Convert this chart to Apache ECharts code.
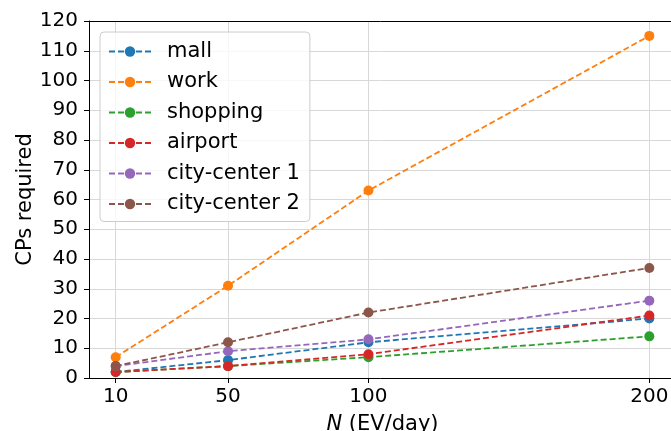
<!DOCTYPE html>
<html>
<head>
<meta charset="utf-8">
<script src="https://cdn.jsdelivr.net/npm/echarts@6/dist/echarts.min.js"></script>
<style>
  html, body { margin: 0; padding: 0; background: #fff; }
  #chart { width: 671px; height: 431px; }
</style>
</head>
<body>
<div id="chart"></div>
<script>
// Arrival rate N (EV/day)
const evPerDay = [10, 50, 100, 200];
// Charge points required per site
const mall = [2, 6, 12, 20];
const work = [7, 31, 63, 115];
const shopping = [2, 4, 7, 14];
const airport = [2, 4, 8, 21];
const cityCenter1 = [4, 9, 13, 26];
const cityCenter2 = [4, 12, 22, 37];

const xTicks = [10, 50, 100, 200];

const seriesDefs = [
  { name: 'mall', values: mall, color: '#1f77b4' },
  { name: 'work', values: work, color: '#ff7f0e' },
  { name: 'shopping', values: shopping, color: '#2ca02c' },
  { name: 'airport', values: airport, color: '#d62728' },
  { name: 'city-center 1', values: cityCenter1, color: '#9467bd' },
  { name: 'city-center 2', values: cityCenter2, color: '#8c564b' }
];

const font = 'DejaVu Sans';
const tickSize = 20;
const textSize = 21;
const chart = echarts.init(document.getElementById('chart'), null, { renderer: 'canvas' });

chart.setOption({
  animation: false,
  textStyle: { fontFamily: font },
  grid: { left: 89, right: -5, top: 21, bottom: 53, containLabel: false, outerBoundsMode: 'none' },
  legend: {
    orient: 'vertical',
    left: 100,
    top: 32,
    padding: [9, 10, 7, 8],
    itemGap: 9.5,
    itemWidth: 42,
    itemHeight: 13,
    backgroundColor: 'rgba(255,255,255,0.8)',
    borderColor: '#cccccc',
    borderWidth: 1,
    borderRadius: 4,
    textStyle: { fontFamily: font, fontSize: textSize, color: '#000', padding: [0, 0, 0, 11] },
    data: seriesDefs.map(s => s.name)
  },
  xAxis: {
    type: 'value',
    min: 0.5,
    max: 209.5,
    name: '{i|N} (EV/day)',
    nameLocation: 'middle',
    nameGap: 36,
    nameMoveOverlap: false,
    nameTextStyle: {
      fontFamily: font, fontSize: textSize, color: '#000',
      rich: { i: { fontFamily: font, fontStyle: 'italic', fontSize: textSize, color: '#000' } }
    },
    axisLine: { show: true, onZero: false, lineStyle: { color: '#000', width: 1 } },
    axisTick: { show: true, inside: false, length: 5, customValues: xTicks, lineStyle: { color: '#000' } },
    axisLabel: { customValues: xTicks, fontFamily: font, fontSize: tickSize, color: '#000', margin: 9 },
    splitLine: { show: true, lineStyle: { color: '#d8d8d8', width: 1 } }
  },
  yAxis: {
    type: 'value',
    min: 0,
    max: 120,
    interval: 10,
    name: 'CPs required',
    nameLocation: 'middle',
    nameGap: 53,
    nameMoveOverlap: false,
    nameTextStyle: { fontFamily: font, fontSize: textSize, color: '#000' },
    axisLine: { show: true, lineStyle: { color: '#000', width: 1 } },
    axisTick: { show: true, inside: false, length: 5, lineStyle: { color: '#000' } },
    axisLabel: { fontFamily: font, fontSize: tickSize, color: '#000', margin: 11 },
    splitLine: { show: true, lineStyle: { color: '#d8d8d8', width: 1 } }
  },
  series: seriesDefs.map(s => ({
    name: s.name,
    type: 'line',
    data: evPerDay.map((x, i) => [x, s.values[i]]),
    color: s.color,
    symbol: 'circle',
    symbolSize: 10,
    showSymbol: true,
    lineStyle: { color: s.color, width: 1.8, type: [6, 3] },
    itemStyle: { color: s.color },
    clip: false
  })),
  graphic: [
    {
      // top edge of the plotting frame
      type: 'polyline',
      silent: true,
      shape: { points: [[89, 21.5], [680, 21.5]] },
      style: { stroke: '#000', lineWidth: 1, fill: null },
      z: 10
    }
  ]
});
</script>
</body>
</html>
